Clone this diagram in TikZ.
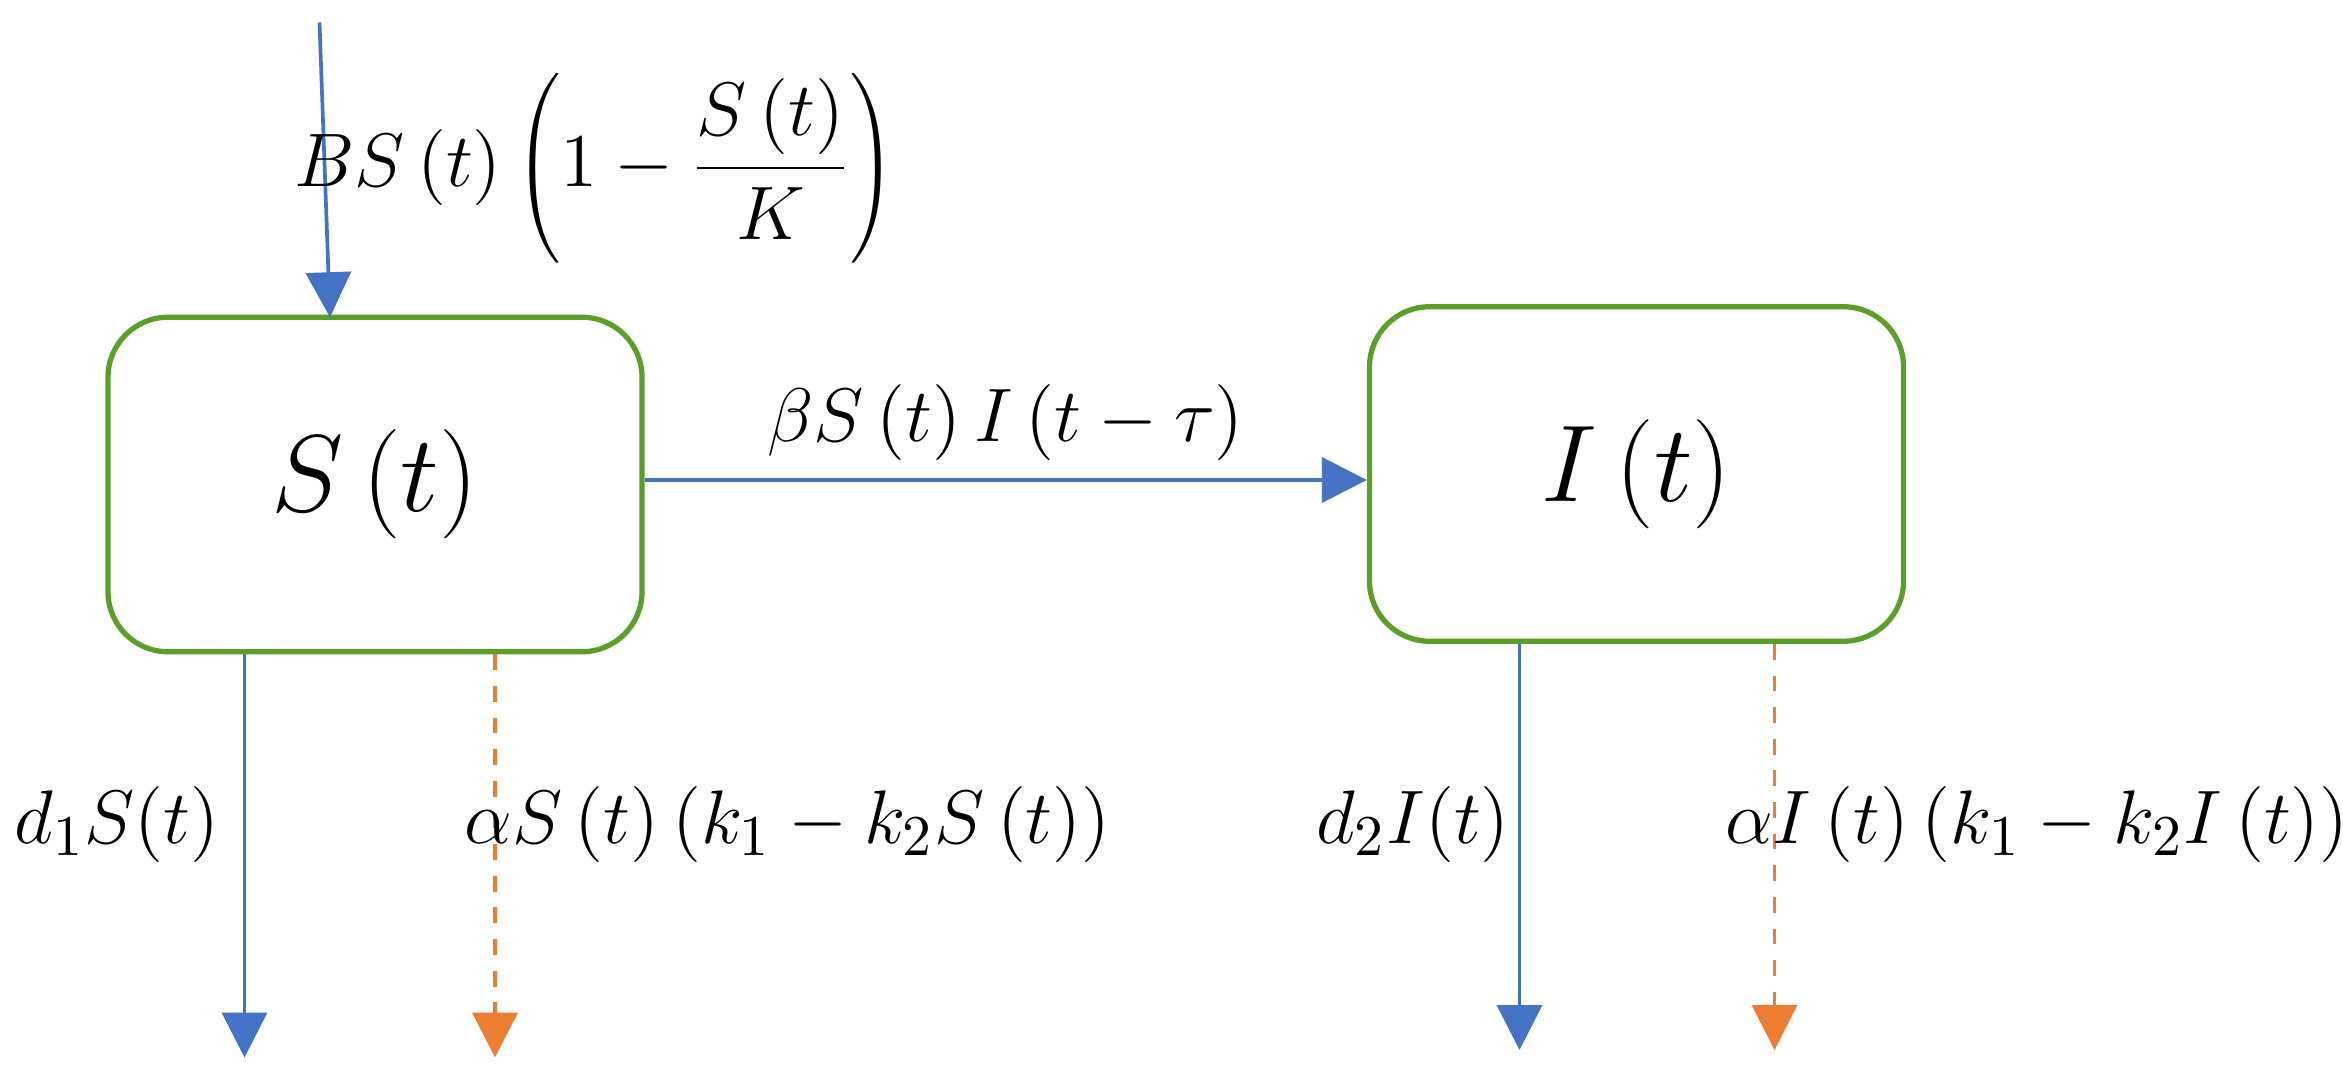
\documentclass[tikz,border=0pt]{standalone}
\usetikzlibrary{arrows.meta}
\definecolor{ablue}{RGB}{68,114,196}
\definecolor{aorange}{RGB}{237,125,49}
\definecolor{agreen}{RGB}{90,160,40}
\tikzset{
 box/.style={draw=agreen,line width=1pt,rounded corners=0.4cm,minimum width=3.56cm,minimum height=2.23cm,font=\fontsize{22}{26}\selectfont},
 flow/.style={draw=ablue,line width=0.7pt,-{Triangle[width=0.3cm,length=0.3cm]}},
 oflow/.style={draw=aorange,line width=0.7pt,dashed,-{Triangle[width=0.3cm,length=0.3cm,fill=aorange]}},
 lab/.style={font=\fontsize{15}{18}\selectfont}
}
\begin{document}
\begin{tikzpicture}
\useasboundingbox (0,3.59) rectangle (15.62,10.77);
\node[box] (S) at (2.50,7.54) {$S\left(t\right)$};
\node[box] (I) at (10.91,7.61) {$I\left(t\right)$};
\coordinate (top) at (2.13,10.62);
\coordinate (topend) at (2.20,8.655);
\coordinate (hy) at (0,7.57);
\draw[flow] (top) -- (topend);
\node[lab] (l0) at (3.97,9.65) {$BS\left(t\right)\left(1-\displaystyle\frac{S\left(t\right)}{K}\right)$};
\draw[flow] (S.east |- hy) -- (I.west |- hy) node[midway,above,lab] (l1) {$\beta S\left(t\right)I\left(t-\tau\right)$};
\coordinate (s1) at (1.63,3.72);
\coordinate (s2) at (3.30,3.72);
\coordinate (i1) at (10.13,3.77);
\coordinate (i2) at (11.83,3.77);
\draw[flow] (S.south -| s1) -- (s1);
\draw[oflow] (S.south -| s2) -- (s2);
\draw[flow] (I.south -| i1) -- (i1);
\draw[oflow] (I.south -| i2) -- (i2);
\node[lab] (l2) at (0.78,5.27) {$d_1S(t)$};
\node[lab] (l3) at (5.25,5.27) {$\alpha S\left(t\right)\left(k_1-k_2S\left(t\right)\right)$};
\node[lab] (l4) at (9.42,5.27) {$d_2I(t)$};
\node[lab] (l5) at (13.58,5.27) {$\alpha I\left(t\right)\left(k_1-k_2I\left(t\right)\right)$};
\end{tikzpicture}
\end{document}
